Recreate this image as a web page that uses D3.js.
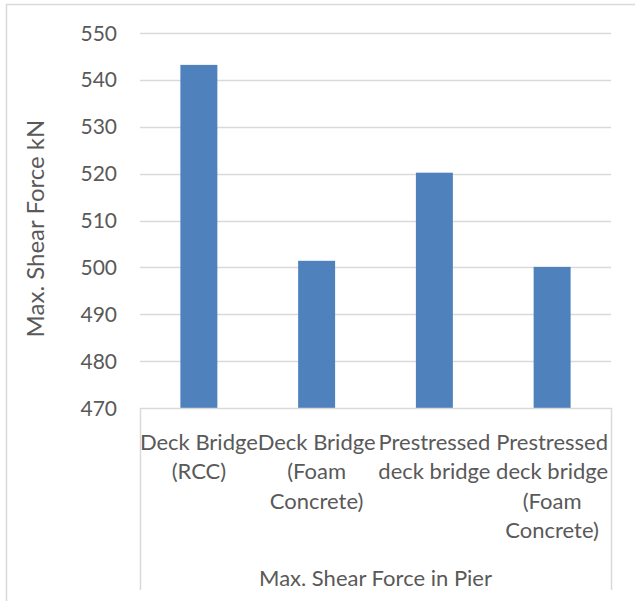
<!DOCTYPE html>
<html>
<head>
<meta charset="utf-8">
<script src="https://cdn.jsdelivr.net/npm/d3@7"></script>
<style>
  body { margin: 0; background: #fff; }
  svg { display: block; font-family: Lato, "Open Sans", sans-serif; }
</style>
</head>
<body>
<svg id="chart" width="635" height="601"></svg>
<script>
// chart data
const categories = ['Deck Bridge (RCC)', 'Deck Bridge (Foam Concrete)', 'Prestressed deck bridge', 'Prestressed deck bridge (Foam Concrete)'];
const categoryLines = [
  ['Deck Bridge', '(RCC)'],
  ['Deck Bridge', '(Foam', 'Concrete)'],
  ['Prestressed', 'deck bridge'],
  ['Prestressed', 'deck bridge', '(Foam', 'Concrete)'],
];
const shearForce = [543.2, 501.4, 520.2, 500.1];
const yTicks = [470, 480, 490, 500, 510, 520, 530, 540, 550];
const groupLabel = 'Max. Shear Force in Pier';
const yTitle = 'Max. Shear Force kN';

const textColor = '#595959';
const gridColor = '#d9d9d9';

const svg = d3.select('#chart');

// outer chart border (right/bottom fall outside the picture)
svg.append('rect')
  .attr('x', 6.5).attr('y', 4.5)
  .attr('width', 640).attr('height', 620)
  .attr('fill', 'none').attr('stroke', gridColor).attr('stroke-width', 1.5);

const plot = { left: 140, right: 611, top: 33, bottom: 408 };

let x = d3.scaleBand()
  .domain(categories)
  .range([plot.left, plot.right])
  .paddingInner(0.686)
  .paddingOuter(0.343);

let y = d3.scaleLinear().domain([470, 550]).range([plot.bottom, plot.top]);

// gridlines
svg.append('g')
  .selectAll('line')
  .data(yTicks.slice(1))
  .join('line')
  .attr('x1', plot.left).attr('x2', plot.right)
  .attr('y1', (d) => Math.round(y(d)) + 0.5)
  .attr('y2', (d) => Math.round(y(d)) + 0.5)
  .attr('stroke', gridColor).attr('stroke-width', 1.5);

// y tick labels
svg.append('g')
  .selectAll('text')
  .data(yTicks)
  .join('text')
  .attr('x', 117)
  .attr('y', (d) => y(d))
  .attr('dy', '0.36em')
  .attr('text-anchor', 'end')
  .attr('fill', textColor)
  .attr('font-size', 21)
  .text((d) => d);

// bars
svg.append('g')
  .selectAll('rect')
  .data(shearForce)
  .join('rect')
  .attr('x', (d, i) => x(categories[i]))
  .attr('y', (d) => y(d))
  .attr('width', x.bandwidth())
  .attr('height', (d) => y(470) - y(d))
  .attr('fill', '#4f81bd');

// category axis box
const boxBottom = 590;
svg.append('path')
  .attr('d', `M${plot.left + 0.5},${boxBottom} V${plot.bottom + 0.5} H${plot.right + 0.5} V${boxBottom}`)
  .attr('fill', 'none')
  .attr('stroke', gridColor)
  .attr('stroke-width', 1.5);

// category labels
const lineHeight = 29.5;
const catGroup = svg.append('g');
categories.forEach((c, i) => {
  const cx = x(c) + x.bandwidth() / 2;
  const t = catGroup.append('text')
    .attr('text-anchor', 'middle')
    .attr('fill', textColor)
    .attr('font-size', 22);
  categoryLines[i].forEach((line, j) => {
    t.append('tspan')
      .attr('x', cx)
      .attr('y', 442 + j * lineHeight)
      .attr('dy', '0.36em')
      .text(line);
  });
});

// group label
svg.append('text')
  .attr('x', (plot.left + plot.right) / 2)
  .attr('y', 578)
  .attr('dy', '0.36em')
  .attr('text-anchor', 'middle')
  .attr('fill', textColor)
  .attr('font-size', 22)
  .text(groupLabel);

// y axis title
svg.append('text')
  .attr('transform', `translate(35,${(plot.top + plot.bottom) / 2 + 8}) rotate(-90)`)
  .attr('dy', '0.36em')
  .attr('text-anchor', 'middle')
  .attr('fill', textColor)
  .attr('font-size', 24)
  .text(yTitle);
</script>
</body>
</html>
